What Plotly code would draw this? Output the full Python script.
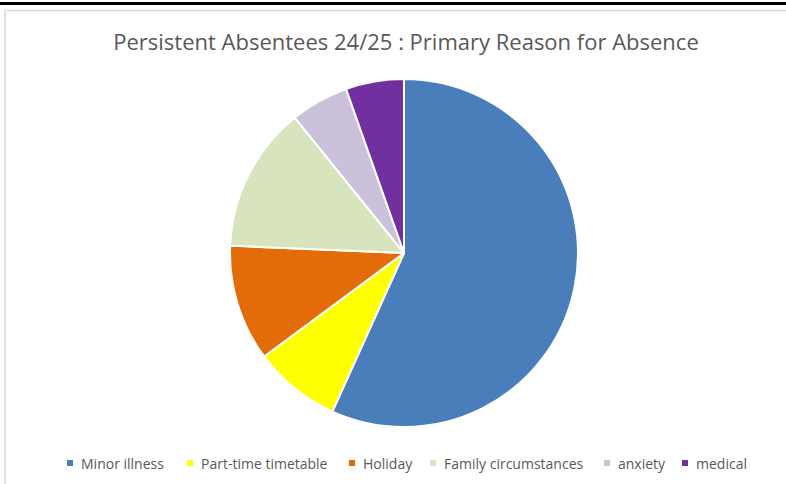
import plotly.graph_objects as go

W, H = 786, 484

reasons = ["Minor illness", "Part-time timetable", "Holiday",
           "Family circumstances", "anxiety", "medical"]
pupils = [21, 3, 4, 5, 2, 2]
colours = ["#4A7EBB", "#FFFF00", "#E36C09", "#D7E4BD", "#CCC1DA", "#7030A0"]

# pie geometry in pixels (centre and radius)
cx, cy, r = 404, 253, 174

# legend layout: left edge of each key square, in pixels
key_left = [67, 187, 349, 430, 604, 682]
key_y = 463
key_size = 6
TEXT_COLOUR = "#595959"
FONT = "Open Sans, Liberation Sans, sans-serif"

fig = go.Figure(go.Pie(
    labels=reasons,
    values=pupils,
    sort=False,
    direction="clockwise",
    rotation=0,
    marker=dict(colors=colours, line=dict(color="white", width=2)),
    textinfo="none",
    hoverinfo="label+value+percent",
    showlegend=False,
    domain=dict(x=[(cx - r) / W, (cx + r) / W],
                y=[1 - (cy + r) / H, 1 - (cy - r) / H]),
))

def px(x):
    return x / W

def py(y):
    return 1 - y / H

shapes = [
    # heavy rule across the top
    dict(type="rect", xref="paper", yref="paper",
         x0=0, x1=1, y0=py(5), y1=py(2),
         fillcolor="black", line=dict(width=0)),
    # light chart-area frame
    dict(type="line", xref="paper", yref="paper",
         x0=px(5), x1=1, y0=py(10.5), y1=py(10.5),
         line=dict(color="#D9D9D9", width=1.5)),
    dict(type="line", xref="paper", yref="paper",
         x0=px(5), x1=px(5), y0=0, y1=py(10.5),
         line=dict(color="#D9D9D9", width=1.5)),
]

annotations = []
# legend: small colour key plus label for each slice
for name, col, left in zip(reasons, colours, key_left):
    shapes.append(dict(
        type="rect", xref="paper", yref="paper",
        x0=px(left), x1=px(left + key_size),
        y0=py(key_y + key_size / 2), y1=py(key_y - key_size / 2),
        fillcolor=col, line=dict(width=0),
    ))
    annotations.append(dict(
        text=name, xref="paper", yref="paper",
        x=px(left + key_size + 6), y=py(key_y),
        xanchor="left", yanchor="middle", showarrow=False,
        font=dict(size=14, color=TEXT_COLOUR, family=FONT),
    ))

fig.update_layout(
    width=W, height=H,
    margin=dict(l=0, r=0, t=0, b=0),
    paper_bgcolor="white",
    font=dict(family=FONT, color=TEXT_COLOUR),
    title=dict(
        text="Persistent Absentees 24/25 : Primary Reason for Absence",
        x=px(406), xanchor="center",
        y=py(42), yanchor="middle",
        font=dict(size=22, color=TEXT_COLOUR),
    ),
    shapes=shapes,
    annotations=annotations,
)

fig.write_html("out.html")
